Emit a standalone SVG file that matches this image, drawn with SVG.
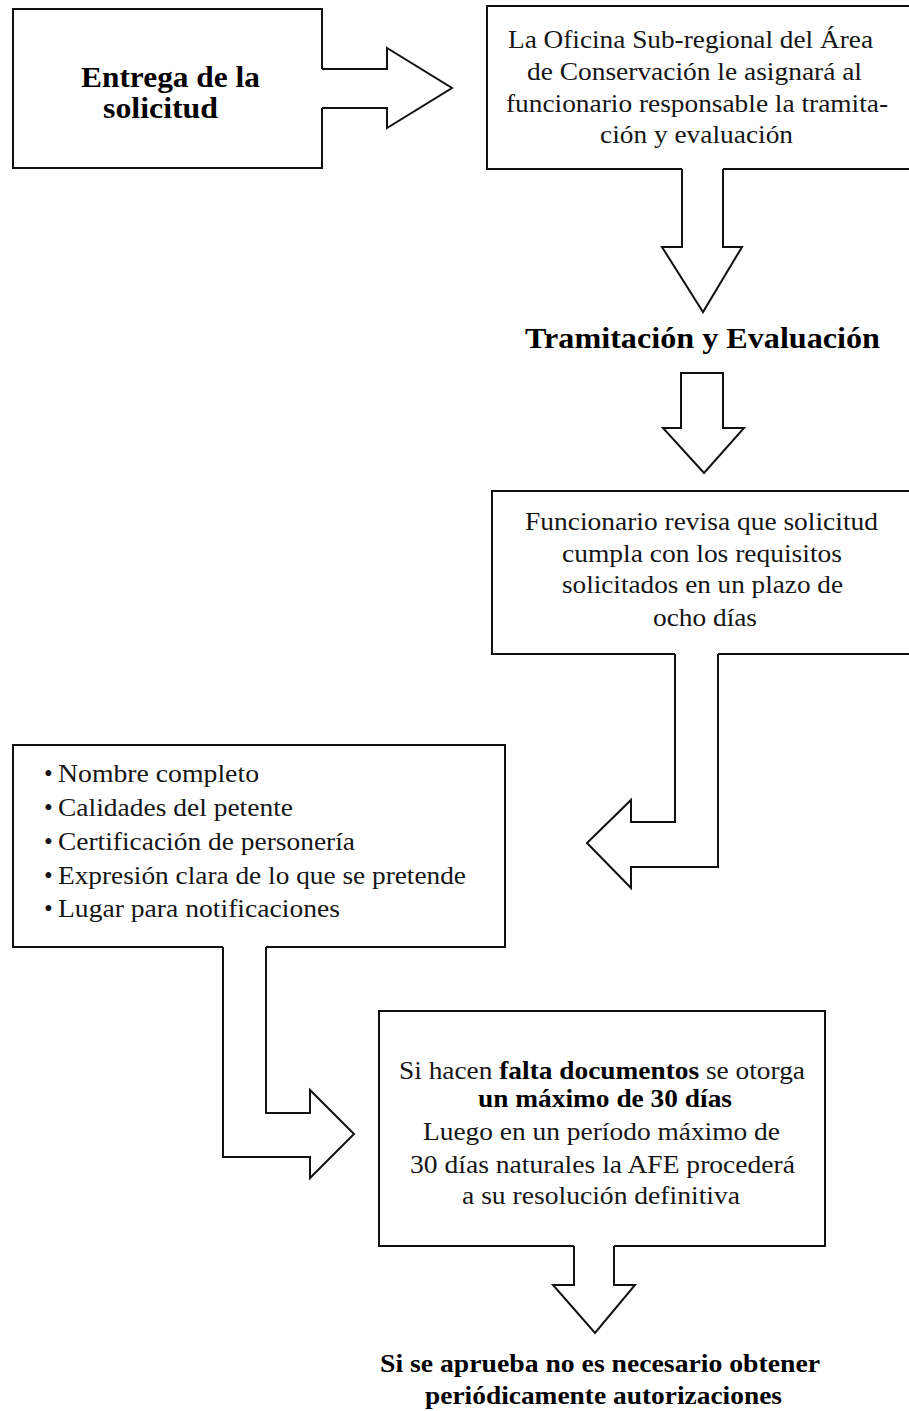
<svg xmlns="http://www.w3.org/2000/svg" width="909" height="1411" viewBox="0 0 909 1411">
<style>
.box{fill:#fff;stroke:#111;stroke-width:2}
.afill{fill:#fff;stroke:none}
.aline{fill:none;stroke:#111;stroke-width:2;stroke-linejoin:miter}
.aclosed{fill:#fff;stroke:#111;stroke-width:2;stroke-linejoin:miter}
text{font-family:"Liberation Serif","Times New Roman",serif;fill:#151515}
.b{font-weight:bold;fill:#000}
.t30{font-size:30px}
.t26{font-size:26px}
.t25{font-size:25px}
.c{text-anchor:middle}
</style>
<rect width="909" height="1411" fill="#fff"/>

<g id="n1">
<rect class="box" x="13" y="9" width="309" height="159"/>
<text class="t30 b c" x="170.5" y="87" textLength="179" lengthAdjust="spacingAndGlyphs">Entrega de la</text>
<text class="t30 b c" x="160.5" y="118" textLength="115" lengthAdjust="spacingAndGlyphs">solicitud</text>
</g>

<g id="n2">
<rect class="box" x="487" y="6" width="425" height="163"/>
<text class="t26 c" x="690.5" y="48" textLength="365" lengthAdjust="spacingAndGlyphs">La Oficina Sub-regional del Área</text>
<text class="t26 c" x="694.5" y="80" textLength="335" lengthAdjust="spacingAndGlyphs">de Conservación le asignará al</text>
<text class="t26 c" x="697" y="112" textLength="382" lengthAdjust="spacingAndGlyphs">funcionario responsable la tramita-</text>
<text class="t26 c" x="696.5" y="143" textLength="193" lengthAdjust="spacingAndGlyphs">ción y evaluación</text>
</g>

<g id="n3">
<text class="t30 b c" x="702.5" y="348" textLength="355" lengthAdjust="spacingAndGlyphs">Tramitación y Evaluación</text>
</g>

<g id="n4">
<rect class="box" x="492" y="491" width="420" height="163"/>
<text class="t26 c" x="701.5" y="530" textLength="353" lengthAdjust="spacingAndGlyphs">Funcionario revisa que solicitud</text>
<text class="t26 c" x="702" y="562" textLength="280" lengthAdjust="spacingAndGlyphs">cumpla con los requisitos</text>
<text class="t26 c" x="702.5" y="593" textLength="281" lengthAdjust="spacingAndGlyphs">solicitados en un plazo de</text>
<text class="t26 c" x="705" y="626" textLength="104" lengthAdjust="spacingAndGlyphs">ocho días</text>
</g>

<g id="n5">
<rect class="box" x="13" y="745" width="492" height="202"/>
<text class="t25" x="44" y="782">•</text>
<text class="t25" x="58" y="782" textLength="201" lengthAdjust="spacingAndGlyphs">Nombre completo</text>
<text class="t25" x="44" y="816">•</text>
<text class="t25" x="58" y="816" textLength="235" lengthAdjust="spacingAndGlyphs">Calidades del petente</text>
<text class="t25" x="44" y="850">•</text>
<text class="t25" x="58" y="850" textLength="297" lengthAdjust="spacingAndGlyphs">Certificación de personería</text>
<text class="t25" x="44" y="884">•</text>
<text class="t25" x="58" y="884" textLength="408" lengthAdjust="spacingAndGlyphs">Expresión clara de lo que se pretende</text>
<text class="t25" x="44" y="917">•</text>
<text class="t25" x="58" y="917" textLength="282" lengthAdjust="spacingAndGlyphs">Lugar para notificaciones</text>
</g>

<g id="n6">
<rect class="box" x="379" y="1011" width="446" height="235"/>
<text class="t25 c" x="602" y="1079" textLength="406" lengthAdjust="spacingAndGlyphs">Si hacen <tspan class="b">falta documentos</tspan> se otorga</text>
<text class="t25 b c" x="605" y="1107" textLength="254" lengthAdjust="spacingAndGlyphs">un máximo de 30 días</text>
<text class="t25 c" x="601.5" y="1140" textLength="357" lengthAdjust="spacingAndGlyphs">Luego en un período máximo de</text>
<text class="t25 c" x="602.5" y="1173" textLength="385" lengthAdjust="spacingAndGlyphs">30 días naturales la AFE procederá</text>
<text class="t25 c" x="601" y="1204" textLength="278" lengthAdjust="spacingAndGlyphs">a su resolución definitiva</text>
</g>

<g id="n7">
<text class="t26 b c" x="600" y="1372" textLength="440" lengthAdjust="spacingAndGlyphs">Si se aprueba no es necesario obtener</text>
<text class="t26 b c" x="603.5" y="1404" textLength="357" lengthAdjust="spacingAndGlyphs">periódicamente autorizaciones</text>
</g>

<g id="connectors">
<g id="a1">
<polygon class="afill" points="320,69 387,69 387,48 452,88 387,128 387,108 320,108"/>
<polyline class="aline" points="322,69 387,69 387,48 452,88 387,128 387,108 322,108"/>
</g>
<g id="a2">
<polygon class="afill" points="682,167 723,167 723,247 742,247 703,312 662,247 682,247"/>
<polyline class="aline" points="682,169 682,247 662,247 703,312 742,247 723,247 723,169"/>
</g>
<g id="a3">
<polygon class="aclosed" points="681,373 723,373 723,428 744,428 704,473 663,428 681,428"/>
</g>
<g id="a4">
<polygon class="afill" points="675,652 718,652 718,867 631,867 631,888 587,843 631,800 631,822 675,822"/>
<polyline class="aline" points="675,654 675,822 631,822 631,800 587,843 631,888 631,867 718,867 718,654"/>
</g>
<g id="a5">
<polygon class="afill" points="223,945 266,945 266,1113 310,1113 310,1090 354,1134 310,1178 310,1157 223,1157"/>
<polyline class="aline" points="223,947 223,1157 310,1157 310,1178 354,1134 310,1090 310,1113 266,1113 266,947"/>
</g>
<g id="a6">
<polygon class="afill" points="574,1244 614,1244 614,1285 635,1285 595,1333 553,1285 574,1285"/>
<polyline class="aline" points="574,1246 574,1285 553,1285 595,1333 635,1285 614,1285 614,1246"/>
</g>
</g>
</svg>
